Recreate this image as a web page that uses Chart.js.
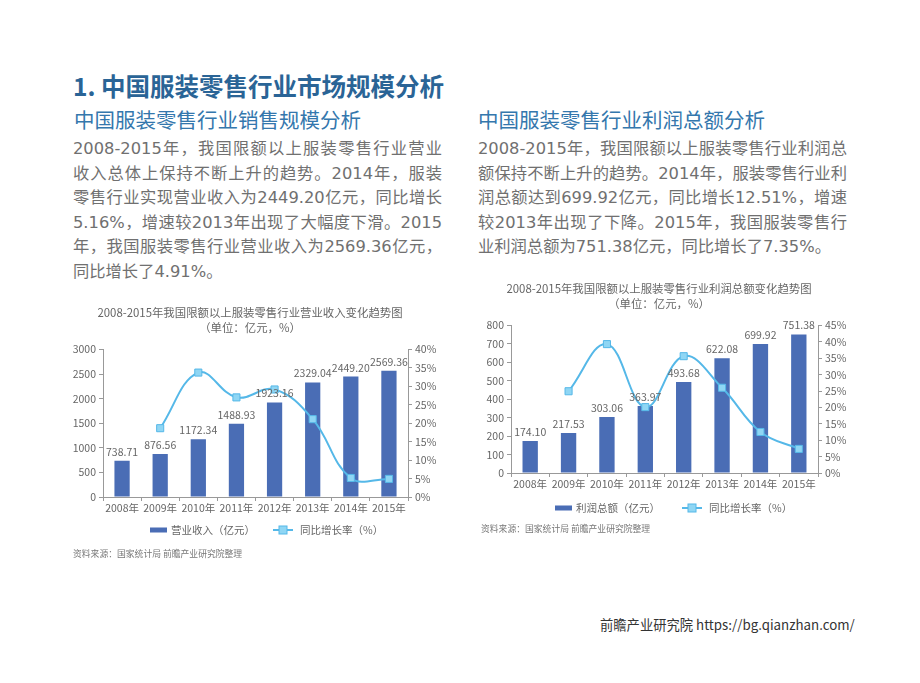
<!DOCTYPE html>
<html>
<head>
<meta charset="utf-8">
<script src="https://cdn.jsdelivr.net/npm/chart.js@4.4.1/dist/chart.umd.min.js"></script>
<style>
body { margin: 0; width: 920px; height: 683px; background: #fff; position: relative; overflow: hidden; font-family: "Noto Sans CJK SC", sans-serif; }
.t { position: absolute; white-space: nowrap; }
#h1 { left: 73px; top: 68px; font-size: 24.5px; font-weight: bold; color: #2a6496; }
.h2 { top: 104px; font-size: 20.5px; color: #3477ad; }
.p { top: 137px; width: 369px; font-family: "DejaVu Sans", "Noto Sans CJK SC", sans-serif; font-size: 16.3px; line-height: 24.5px; color: #707070; }
.p div { text-align: justify; text-align-last: justify; white-space: nowrap; }
.p div.last { text-align-last: left; }
.src { font-size: 8.8px; color: #777; }
#foot { left: 600px; top: 615px; font-size: 13.3px; color: #333; }
canvas { position: absolute; }
</style>
</head>
<body>
<div class="t" id="h1">1. 中国服装零售行业市场规模分析</div>
<div class="t h2" style="left:74px">中国服装零售行业销售规模分析</div>
<div class="t h2" style="left:478px">中国服装零售行业利润总额分析</div>
<div class="t p" style="left:73px">
  <div>2008-2015年，我国限额以上服装零售行业营业</div>
  <div>收入总体上保持不断上升的趋势。2014年，服装</div>
  <div>零售行业实现营业收入为2449.20亿元，同比增长</div>
  <div>5.16%，增速较2013年出现了大幅度下滑。2015</div>
  <div>年，我国服装零售行业营业收入为2569.36亿元，</div>
  <div class="last">同比增长了4.91%。</div>
</div>
<div class="t p" style="left:478px">
  <div>2008-2015年，我国限额以上服装零售行业利润总</div>
  <div>额保持不断上升的趋势。2014年，服装零售行业利</div>
  <div>润总额达到699.92亿元，同比增长12.51%，增速</div>
  <div>较2013年出现了下降。2015年，我国服装零售行</div>
  <div class="last">业利润总额为751.38亿元，同比增长了7.35%。</div>
</div>

<canvas id="chartRevenue" width="380" height="250" style="left:60px;top:298px"></canvas>
<canvas id="chartProfit" width="382" height="250" style="left:468px;top:274px"></canvas>

<div class="t src" style="left:73px;top:547px">资料来源：国家统计局 前瞻产业研究院整理</div>
<div class="t src" style="left:481px;top:522px">资料来源：国家统计局 前瞻产业研究院整理</div>
<div class="t" id="foot">前瞻产业研究院 https://bg.qianzhan.com/</div>

<script>
// 数据
const years = ['2008年', '2009年', '2010年', '2011年', '2012年', '2013年', '2014年', '2015年'];
const revenue = [738.71, 876.56, 1172.34, 1488.93, 1923.16, 2329.04, 2449.20, 2569.36];
const revenueGrowth = [null, 18.66, 33.74, 27.01, 29.16, 21.11, 5.16, 4.91];
const profit = [174.10, 217.53, 303.06, 363.97, 493.68, 622.08, 699.92, 751.38];
const profitGrowth = [null, 24.94, 39.32, 20.10, 35.64, 26.01, 12.51, 7.35];

const revenueAxis = { max: 3000, step: 500 };
const revenuePctAxis = { max: 40, step: 5 };
const profitAxis = { max: 800, step: 100 };
const profitPctAxis = { max: 45, step: 5 };

const FONT = '"Noto Sans CJK SC", sans-serif';
const GRAY = '#666';
const AXIS = '#999';
const BAR = '#4a6db5';
const LINE = '#55b8e8';
const MARK = '#8fd6f4';

// 柱子上的数值
const barLabels = {
    id: 'barLabels',
    afterDatasetsDraw(chart) {
        const ctx = chart.ctx;
        const idx = chart.data.datasets.findIndex(d => d.type === 'bar');
        const meta = chart.getDatasetMeta(idx);
        ctx.save();
        ctx.font = '10.5px ' + FONT;
        ctx.fillStyle = GRAY;
        ctx.textAlign = 'center';
        ctx.textBaseline = 'middle';
        meta.data.forEach((bar, i) => {
            ctx.fillText(chart.data.datasets[idx].data[i].toFixed(2), bar.x, bar.y - 9);
        });
        ctx.restore();
    }
};

// 自己画图例 (柱 + 带方块的线)
const customLegend = {
    id: 'customLegend',
    afterDraw(chart, args, opts) {
        const ctx = chart.ctx;
        const y = chart.chartArea.bottom + opts.dy;
        const left = chart.chartArea.left;
        const sets = chart.data.datasets;
        const bar = sets.find(d => d.type === 'bar');
        const line = sets.find(d => d.type === 'line');
        ctx.save();
        ctx.font = '10.5px ' + FONT;
        ctx.textBaseline = 'middle';
        ctx.fillStyle = BAR;
        ctx.fillRect(left + opts.barX, y - 2.5, 17, 5);
        ctx.fillStyle = GRAY;
        ctx.fillText(bar.label, left + opts.barX + 21, y);

        const lx = left + opts.lineX;
        ctx.strokeStyle = LINE;
        ctx.lineWidth = 2;
        ctx.beginPath(); ctx.moveTo(lx, y); ctx.lineTo(lx + 20, y); ctx.stroke();
        ctx.fillStyle = MARK;
        ctx.fillRect(lx + 6, y - 4, 8, 8);
        ctx.lineWidth = 1;
        ctx.strokeRect(lx + 6, y - 4, 8, 8);
        ctx.fillStyle = GRAY;
        ctx.fillText(line.label, lx + 27, y);
        ctx.restore();
    }
};

function makeChart(id, title, barLabel, bars, growth, leftAxis, pctAxis, legendOpts) {
    return new Chart(document.getElementById(id), {
        data: {
            labels: years,
            datasets: [
                {
                    type: 'line', label: '同比增长率（%）', data: growth, yAxisID: 'y1', order: 0,
                    borderColor: LINE, borderWidth: 2, tension: 0.4,
                    pointStyle: 'rect', pointRadius: 5, pointBackgroundColor: MARK,
                    pointBorderColor: LINE, pointBorderWidth: 1, spanGaps: true
                },
                {
                    type: 'bar', label: barLabel, data: bars, yAxisID: 'y', order: 1,
                    backgroundColor: BAR, barPercentage: 0.4, categoryPercentage: 1
                }
            ]
        },
        options: {
            responsive: false,
            animation: false,
            layout: { padding: { top: 0, bottom: 29, left: 0, right: 0 } },
            plugins: {
                legend: { display: false },
                tooltip: { enabled: false },
                title: {
                    display: true, text: title, color: GRAY,
                    font: { size: 11.4, family: FONT, weight: 'normal', lineHeight: 1.25 },
                    padding: { top: 8, bottom: 15 }
                },
                customLegend: legendOpts
            },
            scales: {
                x: {
                    grid: { drawOnChartArea: false, color: AXIS, tickLength: 4 },
                    border: { color: AXIS },
                    ticks: { color: GRAY, font: { size: 10.5, family: FONT }, padding: 1, maxRotation: 0, autoSkip: false },
                    afterFit: s => { s.height = 22; }
                },
                y: {
                    position: 'left', min: 0, max: leftAxis.max,
                    grid: { drawOnChartArea: false, color: AXIS, tickLength: 4 },
                    border: { color: AXIS },
                    ticks: { stepSize: leftAxis.step, autoSkip: false, color: GRAY, font: { size: 10.5, family: FONT }, padding: 3, callback: v => String(v) },
                    afterFit: s => { s.width = 43; }
                },
                y1: {
                    position: 'right', min: 0, max: pctAxis.max,
                    grid: { drawOnChartArea: false, color: AXIS, tickLength: 4 },
                    border: { color: AXIS },
                    ticks: { stepSize: pctAxis.step, autoSkip: false, color: GRAY, font: { size: 10.5, family: FONT }, padding: 3, callback: v => v + '%' },
                    afterFit: s => { s.width = 32; }
                }
            }
        },
        plugins: [barLabels, customLegend]
    });
}

makeChart('chartRevenue',
    ['2008-2015年我国限额以上服装零售行业营业收入变化趋势图', '（单位：亿元，%）'],
    '营业收入（亿元）', revenue, revenueGrowth, revenueAxis, revenuePctAxis,
    { dy: 33, barX: 47, lineX: 170 });

makeChart('chartProfit',
    ['2008-2015年我国限额以上服装零售行业利润总额变化趋势图', '（单位：亿元，%）'],
    '利润总额（亿元）', profit, profitGrowth, profitAxis, profitPctAxis,
    { dy: 35, barX: 44, lineX: 171 });
</script>
</body>
</html>
